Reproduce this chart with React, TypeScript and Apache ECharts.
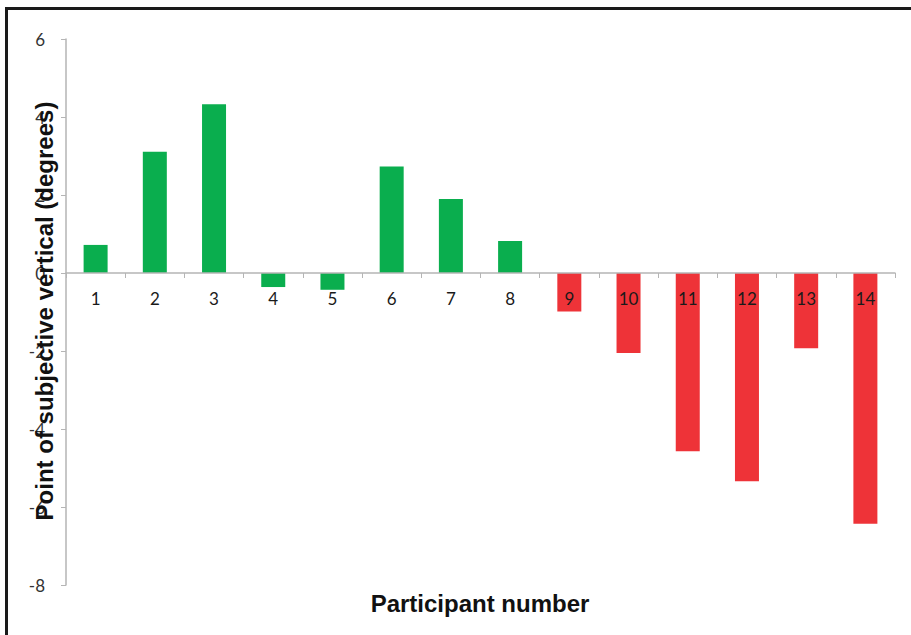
import React, { useEffect, useRef } from "react";
import * as echarts from "echarts";

const participants = ["1", "2", "3", "4", "5", "6", "7", "8", "9", "10", "11", "12", "13", "14"];
const groupA = [0.72, 3.11, 4.33, -0.36, -0.43, 2.73, 1.9, 0.82, null, null, null, null, null, null];
const groupB = [null, null, null, null, null, null, null, null, -0.99, -2.05, -4.57, -5.34, -1.93, -6.43];
const yTicks = { min: -8, max: 6, interval: 2 };
const xTitle = "Participant number";
const yTitle = "Point of subjective vertical (degrees)";

export default function App() {
  const ref = useRef<HTMLDivElement>(null);
  useEffect(() => {
    const chart = echarts.init(ref.current!, undefined, { renderer: "svg" });
    const gridTop = 39;
    const gridBottom = 50;
    const plotH = 635 - gridTop - gridBottom;
    const zeroOffset = (plotH * (0 - yTicks.min)) / (yTicks.max - yTicks.min);
    chart.setOption({
      animation: false,
      backgroundColor: "#ffffff",
      grid: { left: 66, right: 16, top: gridTop, bottom: gridBottom, containLabel: false },
      xAxis: {
        type: "category",
        data: participants,
        position: "bottom",
        offset: -zeroOffset,
        z: 10,
        axisLine: { onZero: false, lineStyle: { color: "#b5b5b5", width: 1.5 } },
        axisTick: { show: true, alignWithLabel: false, length: 5, lineStyle: { color: "#b5b5b5" } },
        axisLabel: { margin: 17, fontSize: 17, color: "#1a1a1a", fontFamily: "Lato" },
        splitLine: { show: false },
      },
      yAxis: {
        type: "value",
        min: yTicks.min,
        max: yTicks.max,
        interval: yTicks.interval,
        axisLine: { show: true, lineStyle: { color: "#b5b5b5", width: 1.5 } },
        axisTick: { show: true, length: 5, lineStyle: { color: "#b5b5b5" } },
        axisLabel: { margin: 21, fontSize: 17, color: "#333333", fontFamily: "Lato" },
        splitLine: { show: false },
      },
      series: [
        {
          type: "bar",
          name: "A",
          stack: "s",
          data: groupA,
          barWidth: 24,
          itemStyle: { color: "#0aae4e" },
        },
        {
          type: "bar",
          name: "B",
          stack: "s",
          data: groupB,
          barWidth: 24,
          itemStyle: { color: "#ee3338" },
        },
      ],
      graphic: [
        {
          type: "rect",
          shape: { x: 5, y: 7, width: 3, height: 640 },
          style: { fill: "#1a1a1a" },
          z: 100,
        },
        {
          type: "rect",
          shape: { x: 5, y: 7, width: 910, height: 3 },
          style: { fill: "#1a1a1a" },
          z: 100,
        },
        {
          type: "text",
          x: 480,
          y: 603,
          style: {
            text: xTitle,
            font: "bold 24px 'Liberation Sans', Arial, sans-serif",
            fill: "#111111",
            textAlign: "center",
            textVerticalAlign: "middle",
          },
          z: 100,
        },
        {
          type: "text",
          x: 44,
          y: 311,
          rotation: Math.PI / 2,
          style: {
            text: yTitle,
            font: "bold 24px 'Liberation Sans', Arial, sans-serif",
            fill: "#111111",
            textAlign: "center",
            textVerticalAlign: "middle",
          },
          z: 100,
        },
      ],
    });
    return () => chart.dispose();
  }, []);
  return (
    <div
      ref={ref}
      style={{ position: "absolute", left: 0, top: 0, width: 911, height: 635 }}
    />
  );
}
